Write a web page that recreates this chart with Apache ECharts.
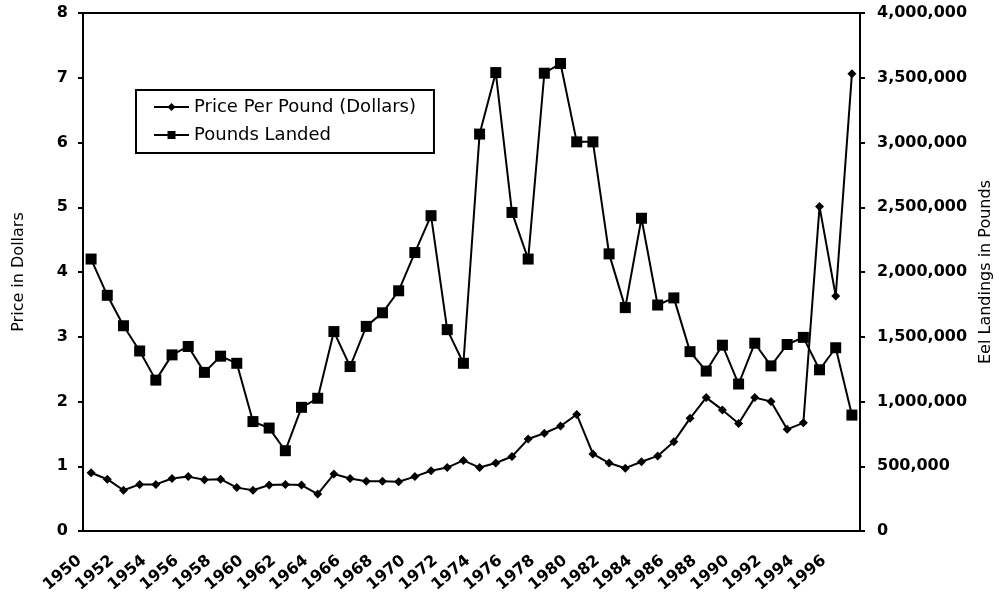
<!DOCTYPE html>
<html>
<head>
<meta charset="utf-8">
<title>Eel price and landings</title>
<script src="https://cdn.jsdelivr.net/npm/echarts@6/dist/echarts.min.js"></script>
<style>
    html, body {margin: 0; padding: 0; background: #fff;}
    #chart {width: 999px; height: 593px;}
</style>
</head>
<body>
<div id="chart"></div>
<script>
//years on the x axis
var years = [];
for (var y = 1950; y <= 1997; y++) {
    years.push(String(y));
}
//price per pound, dollars
var price = [
    0.90, 0.80, 0.63, 0.72, 0.72, 0.81, 0.84, 0.79, 0.80, 0.67,
    0.63, 0.71, 0.72, 0.71, 0.57, 0.88, 0.81, 0.77, 0.77, 0.76,
    0.84, 0.93, 0.98, 1.09, 0.98, 1.05, 1.15, 1.42, 1.51, 1.62,
    1.80, 1.19, 1.05, 0.97, 1.07, 1.16, 1.38, 1.74, 2.06, 1.87,
    1.66, 2.06, 2.00, 1.57, 1.67, 5.01, 3.63, 7.06
];
//pounds landed
var pounds = [
    2100000, 1820000, 1585000, 1390000, 1165000, 1360000, 1425000, 1225000, 1350000, 1295000,
    845000, 795000, 620000, 955000, 1025000, 1540000, 1270000, 1580000, 1685000, 1855000,
    2150000, 2435000, 1555000, 1295000, 3065000, 3540000, 2460000, 2100000, 3535000, 3610000,
    3005000, 3005000, 2140000, 1725000, 2415000, 1745000, 1800000, 1385000, 1235000, 1435000,
    1135000, 1450000, 1275000, 1440000, 1495000, 1245000, 1415000, 895000
];

var font = 'DejaVu Sans';
var black = '#000';

function commas(v) {
    return String(v).replace(/\B(?=(\d{3})+(?!\d))/g, ',');
}

var e = echarts.init(document.getElementById('chart'));
var option = {
    backgroundColor: '#fff',
    animation: false,
    grid: {
        left: 83, right: 139, top: 13, bottom: 62,
        outerBoundsMode: 'none',
        show: true, borderColor: black, borderWidth: 2
    },
    legend: {
        orient: 'vertical',
        left: 136,
        top: 90,
        padding: [8, 18, 9, 17],
        itemGap: 10,
        itemWidth: 35,
        itemHeight: 10,
        borderColor: black,
        borderWidth: 2,
        textStyle: {fontFamily: font, fontSize: 18, color: black},
        data: ['Price Per Pound (Dollars)', 'Pounds Landed']
    },
    xAxis: {
        type: 'category',
        data: years,
        boundaryGap: true,
        axisLine: {lineStyle: {color: black, width: 2}},
        axisTick: {interval: 0, length: 6, lineStyle: {color: black, width: 2}},
        axisLabel: {
            interval: 1,
            rotate: 40,
            margin: 18,
            padding: [0, 15, 0, 0],
            fontFamily: font,
            fontWeight: 'bold',
            fontSize: 16,
            color: black
        },
        splitLine: {show: false}
    },
    yAxis: [
        {
            type: 'value',
            min: 0,
            max: 8,
            interval: 1,
            name: 'Price in Dollars',
            nameLocation: 'middle',
            nameRotate: 90,
            nameGap: 56,
            nameTextStyle: {fontFamily: font, fontSize: 16, color: black},
            axisLine: {show: true, lineStyle: {color: black, width: 2}},
            axisTick: {show: true, length: 5, lineStyle: {color: black, width: 2}},
            axisLabel: {margin: 15, fontFamily: font, fontWeight: 'bold', fontSize: 16, color: black},
            splitLine: {show: false}
        },
        {
            type: 'value',
            position: 'right',
            min: 0,
            max: 4000000,
            interval: 500000,
            name: 'Eel Landings in Pounds',
            nameLocation: 'middle',
            nameRotate: 90,
            nameGap: 116,
            nameTextStyle: {fontFamily: font, fontSize: 16, color: black},
            axisLine: {show: true, lineStyle: {color: black, width: 2}},
            axisTick: {show: true, length: 5, lineStyle: {color: black, width: 2}},
            axisLabel: {
                margin: 17,
                fontFamily: font,
                fontWeight: 'bold',
                fontSize: 16,
                color: black,
                formatter: commas
            },
            splitLine: {show: false}
        }
    ],
    series: [
        {
            name: 'Price Per Pound (Dollars)',
            type: 'line',
            yAxisIndex: 0,
            data: price,
            symbol: 'diamond',
            symbolSize: 9,
            showAllSymbol: true,
            itemStyle: {color: black},
            lineStyle: {color: black, width: 2}
        },
        {
            name: 'Pounds Landed',
            type: 'line',
            yAxisIndex: 1,
            data: pounds,
            symbol: 'rect',
            symbolSize: 11,
            showAllSymbol: true,
            itemStyle: {color: black},
            lineStyle: {color: black, width: 2}
        }
    ]
};
e.setOption(option);
</script>
</body>
</html>
